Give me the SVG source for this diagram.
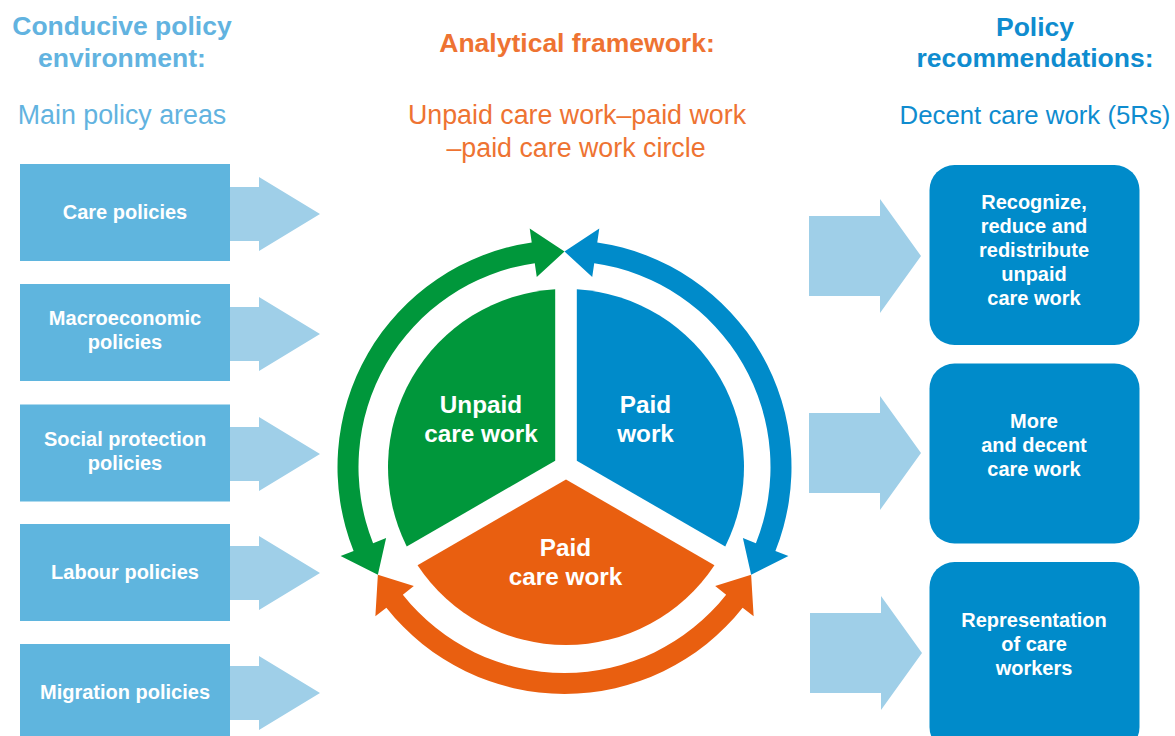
<svg xmlns="http://www.w3.org/2000/svg" width="1175" height="736" viewBox="0 0 1175 736">
<style>
text{font-family:"Liberation Sans",Arial,Helvetica,sans-serif;text-anchor:middle}
.h{font-weight:bold;font-size:26.5px}
.sub{font-size:26.8px}
.lb{font-weight:bold;font-size:20px;fill:#fff}
.ct{font-weight:bold;font-size:24.3px;fill:#fff}
.lbox{fill:#5fb5de}
.rbox{fill:#008bca}
.arr{fill:#9fcfe8}
</style>
<rect width="1175" height="736" fill="#fff"/>
<g id="titles">
<text class="h" x="122" y="35" fill="#62b3e0">Conducive policy</text>
<text class="h" x="122" y="67" fill="#62b3e0">environment:</text>
<text class="sub" x="122" y="124" fill="#62b3e0">Main policy areas</text>
<text class="h" x="577" y="52" fill="#ee7332">Analytical framework:</text>
<text class="sub" x="577" y="124" fill="#ee7332">Unpaid care work–paid work</text>
<text class="sub" x="576" y="157" fill="#ee7332">–paid care work circle</text>
<text class="h" x="1035" y="36" fill="#0f8ccf">Policy</text>
<text class="h" x="1035" y="67" fill="#0f8ccf">recommendations:</text>
<text class="sub" x="1035" y="124" fill="#0f8ccf" style="font-size:25.8px">Decent care work (5Rs)</text>
</g>
<g id="connectors">
<polygon class="arr" points="229,187 259,187 259,177 320,214 259,251 259,241 229,241"/>
<polygon class="arr" points="229,307 259,307 259,297 320,334 259,371 259,361 229,361"/>
<polygon class="arr" points="229,427 259,427 259,417 320,454 259,491 259,481 229,481"/>
<polygon class="arr" points="229,546 259,546 259,536 320,573 259,610 259,600 229,600"/>
<polygon class="arr" points="229,666 259,666 259,656 320,693 259,730 259,720 229,720"/>
<polygon class="arr" points="809,216 880,216 880,199 921,256 880,313 880,296 809,296"/>
<polygon class="arr" points="809,413 880,413 880,396 921,453 880,510 880,493 809,493"/>
<polygon class="arr" points="810,613 881,613 881,596 922,653 881,710 881,693 810,693"/>
<path id="ring-green" fill="#00973b" d="M564.5,251.5 L529.71,228.52 L531.73,242.38 A227,227 0 0 0 353.59,550.93 L340.58,556.11 L377.87,574.75 L386.11,537.99 L373.10,543.17 A206,206 0 0 1 534.76,263.16 L536.78,277.01 Z"/>
<path id="ring-blue" fill="#008bca" d="M564.5,251.5 L599.29,228.52 L597.27,242.38 A227,227 0 0 1 775.41,550.93 L788.42,556.11 L751.13,574.75 L742.89,537.99 L755.90,543.17 A206,206 0 0 0 594.24,263.16 L592.22,277.01 Z"/>
<path id="ring-orange" fill="#e95f10" d="M377.87,574.75 L375.37,616.36 L386.36,607.69 A227,227 0 0 0 742.64,607.69 L753.63,616.36 L751.13,574.75 L715.18,586.00 L726.16,594.67 A206,206 0 0 1 402.84,594.67 L413.82,586.00 Z"/>
</g>
<g id="care-policies"><rect class="lbox" x="20" y="164" width="210" height="97"/><text class="lb" x="125" y="219">Care policies</text></g>
<g id="macro-policies"><rect class="lbox" x="20" y="284" width="210" height="97"/><text class="lb" x="125" y="325">Macroeconomic</text><text class="lb" x="125" y="349">policies</text></g>
<g id="social-policies"><rect class="lbox" x="20" y="404.5" width="210" height="97"/><text class="lb" x="125" y="446">Social protection</text><text class="lb" x="125" y="470">policies</text></g>
<g id="labour-policies"><rect class="lbox" x="20" y="524" width="210" height="97"/><text class="lb" x="125" y="579">Labour policies</text></g>
<g id="migration-policies"><rect class="lbox" x="20" y="644" width="210" height="97"/><text class="lb" x="125" y="699">Migration policies</text></g>
<g id="unpaid-care-work"><path fill="#00973b" d="M555.2,460.76 L555.2,289.33 A178,178 0 0 0 406.74,546.48 Z"/><text class="ct" x="481" y="413">Unpaid</text><text class="ct" x="481" y="442">care work</text></g>
<g id="paid-work"><path fill="#008bca" d="M576.8,460.76 L576.8,289.33 A178,178 0 0 1 725.26,546.48 Z"/><text class="ct" x="645.5" y="413">Paid</text><text class="ct" x="645.5" y="442">work</text></g>
<g id="paid-care-work"><path fill="#e95f10" d="M566,479.47 L417.54,565.19 A178,178 0 0 0 714.46,565.19 Z"/><text class="ct" x="565.5" y="556">Paid</text><text class="ct" x="565.5" y="585">care work</text></g>
<g id="recognize"><rect class="rbox" x="929.5" y="165" width="210" height="180" rx="25"/><text class="lb" x="1034" y="209">Recognize,</text><text class="lb" x="1034" y="233">reduce and</text><text class="lb" x="1034" y="257">redistribute</text><text class="lb" x="1034" y="281">unpaid</text><text class="lb" x="1034" y="305">care work</text></g>
<g id="more-decent"><rect class="rbox" x="929.5" y="363.5" width="210" height="180" rx="25"/><text class="lb" x="1034" y="428">More</text><text class="lb" x="1034" y="452">and decent</text><text class="lb" x="1034" y="476">care work</text></g>
<g id="representation"><rect class="rbox" x="929.5" y="562" width="210" height="190" rx="25"/><text class="lb" x="1034" y="627">Representation</text><text class="lb" x="1034" y="651">of care</text><text class="lb" x="1034" y="675">workers</text></g>
</svg>
